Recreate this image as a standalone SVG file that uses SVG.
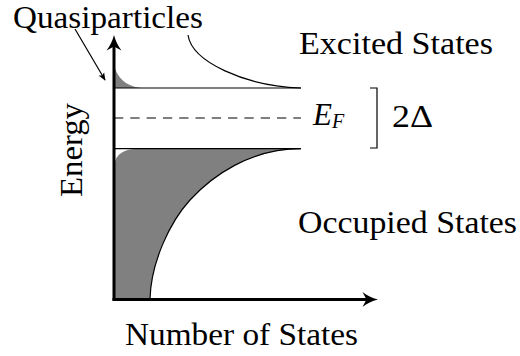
<svg xmlns="http://www.w3.org/2000/svg" width="520" height="356" viewBox="0 0 520 356">
<style>
  .thin { fill: none; stroke: #000; stroke-width: 1.2; }
  .axis { fill: none; stroke: #000; stroke-width: 3; }
  .shade { fill: #808080; stroke: none; }
</style>
<defs>
  <marker id="small" viewBox="0 0 10 10" refX="9" refY="5" markerWidth="8" markerHeight="8" markerUnits="userSpaceOnUse" orient="auto">
    <path d="M0,1 L10,5 L0,9 L2.5,5 Z" fill="#000"/>
  </marker>
</defs>

<g id="shading">
  <path class="shade" d="M114,88 L114,66 C118,78 126,87 143,88 Z"/>
  <path class="shade" d="M114,299 L114,165 C116,154 124,149 136,149 L301,149 C250,149 212,176 190,200 C170,222 151,262 150,299 Z"/>
</g>

<g id="levels">
  <line class="thin" x1="114" y1="88" x2="301" y2="88"/>
  <line class="thin" x1="114" y1="118" x2="301" y2="118" stroke-dasharray="9.3 7"/>
  <line class="thin" x1="114" y1="148.7" x2="301" y2="148.7"/>
  <path class="thin" d="M301,148.7 C250,148.7 212,176 190,200 C170,222 151,262 150,299"/>
</g>

<g id="axes">
  <line class="axis" x1="114" y1="300.5" x2="114" y2="44"/>
  <path d="M114,35 C115.5,41 118,46 121.5,50.5 L114,46.5 L106.5,50.5 C110,46 112.5,41 114,35 Z" fill="#000"/>
  <line class="axis" x1="112.5" y1="299.5" x2="369" y2="299.5"/>
  <path d="M378,299.5 C372,301 367,303.5 362.5,307 L366.5,299.5 L362.5,292 C367,295.5 372,298 378,299.5 Z" fill="#000"/>
</g>

<g id="connectors">
  <line class="thin" x1="75" y1="29" x2="105" y2="80" marker-end="url(#small)"/>
  <path class="thin" d="M188,35 C192,62 245,86 301,88"/>
  <path class="thin" d="M370,88 L377,88 L377,148 L370,148"/>
</g>

<g id="labels" font-family="Liberation Serif, DejaVu Serif, serif" font-size="31" fill="#000">
  <text x="13" y="28" textLength="190" lengthAdjust="spacingAndGlyphs">Quasiparticles</text>
  <text x="299" y="54" textLength="194" lengthAdjust="spacingAndGlyphs">Excited States</text>
  <text x="298" y="233" textLength="219" lengthAdjust="spacingAndGlyphs">Occupied States</text>
  <text x="125" y="345" textLength="233" lengthAdjust="spacingAndGlyphs">Number of States</text>
  <text transform="translate(82,150) rotate(-90)" text-anchor="middle" x="0" y="0" textLength="94" lengthAdjust="spacingAndGlyphs">Energy</text>
  <text x="313" y="125" font-style="italic">E<tspan font-size="20" dy="3">F</tspan></text>
  <text x="392" y="127" textLength="41" lengthAdjust="spacingAndGlyphs">2Δ</text>
</g>
</svg>
